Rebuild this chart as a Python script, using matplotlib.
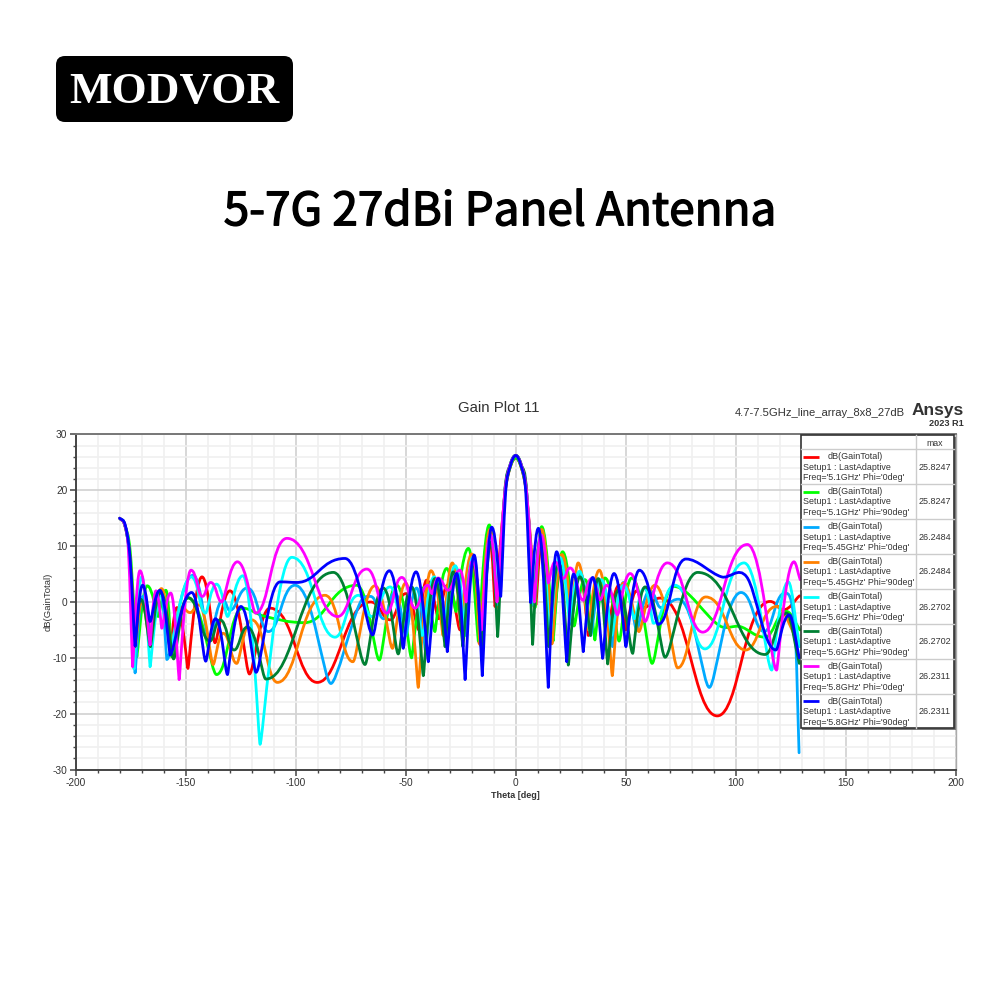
import matplotlib
matplotlib.use("Agg")
import matplotlib.pyplot as plt
import matplotlib.patheffects as pe
from matplotlib.path import Path
from matplotlib.patches import PathPatch, FancyBboxPatch, Rectangle
from matplotlib.ticker import MultipleLocator

# ---- values: lobe peaks and nulls of each trace ----
red_theta = [-180,-177.7,-175.4,-173,-168.5,-166,-161.5,-157,-154,-149,-142.6,-136.7,-129.9,-121,-111.7,-90.2,-66,-57,-50,-44,-40.5,-35,-31,-25.3,-19.3,-16.6,-11.7,-9.4,-5,-2.6,0,2.6,5,9.2,12,16.5,21,25,29,33,38,42,47,50,55,58,65.6,91.6,115.6,121.6,129]
red_gain = [15,13.8,8,-8,0.5,-7,2,-9,-1,-11.9,4.5,-7.3,2,-12.9,-1.1,-14.4,0,-3.2,1.5,-5,3.9,-3,3,-5,6.5,-7.4,10.8,-0.8,19,24,25.8,24,19,-0.5,11,-7,6.5,-3,5,-6,3.5,-4,3,-5,2,-1,0.7,-20.4,0.1,-1.4,1.1]

lime_theta = [-180,-177.7,-175.2,-172.2,-167.5,-162.5,-159,-156.4,-149,-136,-124,-114.7,-96,-72.3,-62,-54,-47.3,-41.7,-36.7,-31.4,-27.1,-21.5,-17,-12,-8.5,-5,-2.6,0,2.6,5,8.8,11.8,17,21.3,26.5,31.5,36,40.6,47,52.7,62,71.6,92.9,102,113.3,123.2,129.2]
lime_gain = [15,13.8,9,-9.8,2.9,-2.6,2.1,-9.8,0.7,-13,-1.1,-2.5,-3.7,3,-10.4,3,-10,2.6,-5.3,6,-1.7,9.6,-7,13.8,-0.5,19,24,25.8,24,19,-1,13.5,-7,9,-4.3,4,-6.8,4.3,-7,4.3,-11,2.8,-4.3,-4.4,-6.3,-1.7,-5]

sky_theta = [-180,-177.7,-175.4,-173,-169.5,-166,-161.5,-158.6,-146.6,-139.7,-133,-130,-122,-112.4,-100.3,-84,-70.8,-66,-60,-55,-50,-45,-41,-36,-31,-27,-23,-19.5,-15.7,-11.7,-8.3,-5,-2.6,0,2.6,5,8.3,11.8,16,20.5,25,29.5,34,39,44,49,55,61,66,74,88,102.4,112.9,122.4,127,128.8]
sky_gain = [15,13.8,8,-12.7,1,-7,2,-10.3,4.8,-6.2,0.3,-1.5,2.5,-5.3,3,-14.6,-0.2,1,-3,1.7,-6,2.5,-9,4,-7,6,-6,8.5,-8,12.5,-0.8,19.5,24.4,26.25,24.4,19.5,-0.8,12.5,-7.5,8,-4,5,-6,4,-8,3.5,-5,2,-1,0.5,-15.3,1.7,-5.3,1.6,-5,-27]

orange_theta = [-180,-177.7,-175.3,-172.8,-170,-166.5,-161,-156.5,-152,-148,-144,-137.5,-133,-126.8,-120,-108.3,-86.7,-74,-64,-56,-50,-44.3,-38.5,-33,-28.8,-24.9,-20,-16.2,-11.7,-8.5,-5,-2.6,0,2.6,5,8.5,11.8,16.5,21,25.5,28.4,33,38,43.9,48.9,56,63.3,73.6,86.4,104.5,118.6,129.2]
orange_gain = [15,13.8,8,-8,0,-7,2.4,-8,-1,-1.9,-0.5,-11.2,-5.6,-11,-3.2,-14.4,1.2,-10.7,2.9,-8.3,3.4,-15.3,5.6,-6,7,-4.4,8.6,-7.7,13,-1,19.5,24.4,26.25,24.4,19.5,-1,13,-7.5,8.5,-3,7,-5,5.7,-13.2,3.4,-5.3,3,-11.8,0.9,-8.6,-0.8,-8]

cyan_theta = [-180,-177.7,-175.5,-173.5,-170,-166.2,-161,-157,-147.5,-141,-136,-131,-124,-116.2,-101.8,-82.1,-71.5,-65.5,-57,-52,-47,-42.5,-37,-32.5,-27.5,-23.5,-19.5,-15.5,-11.5,-8,-5,-2.6,0,2.6,5,8,11.5,15.5,20,24.5,29,33.5,39,43.5,49,54,58.5,62.6,72.4,86,103.8,116.4,123.9,129]
cyan_gain = [15,13.8,7.5,-12,4.5,-11.6,1.5,-8,4.5,-2,3.2,-2.6,4.7,-25.5,8,-6.3,1.2,-2.6,2.7,-4,2.5,-6,4.5,-5,6.5,-4,8,-7,12,-0.5,19.5,24.5,26.27,24.5,19.5,-0.5,12,-7,8,-3.5,5.5,-5,4,-6,3,-3,2.5,-3.8,3,-8.4,7,-12.2,3.6,-8]

dgreen_theta = [-180,-177.7,-175.4,-173,-170.5,-166,-161.5,-155.5,-149,-139,-134.4,-128,-122,-113.6,-82.9,-68.5,-60.2,-53.4,-47.3,-42,-36.7,-32.1,-28.4,-24,-19.5,-15.3,-11.2,-8.2,-5,-2.6,0,2.6,5,7.7,11,15,19.5,23.9,29.2,34,37.5,41.8,46.6,53.2,58.8,67.9,82.7,113.3,123.2,128.9]
dgreen_gain = [15,13.8,8,-8,0.5,-8,1.7,-10.2,0.8,-7,-3.2,-8.6,-4.5,-13.8,5.3,-11.2,2.5,-9.3,2.7,-13.2,4.2,-8,5.4,-8,7,-9,10.7,-6.2,19.5,24.5,26.27,24.5,19.5,-7.6,11,-8,7,-11.3,4.5,-6,4.2,-11.1,2.1,-9.2,2.7,-9.9,5.3,-9.4,-2,-11]

magenta_theta = [-180,-177.7,-176,-174.1,-170.8,-166.2,-163.5,-160.9,-156.8,-153,-147.6,-142.4,-138.6,-133.6,-126.5,-118.2,-104,-80.9,-67.7,-58.6,-51.8,-45.8,-40,-38,-35.3,-30.7,-25.3,-22.5,-19.5,-15.5,-11.5,-8.5,-5,-2.6,0,2.6,5,8.5,11.5,14.8,17.9,21.6,24.7,30.7,34.5,38.3,41.4,46.2,52,58.8,68.9,85,105.3,118.6,126.5,129.3]
magenta_gain = [15,13.8,9,-11.6,5.6,-7.7,2,-4.7,1.6,-13.9,5.7,1,3.5,0,7.2,-2,11.4,-2.6,5.9,-2,4.4,-1.1,3,1.5,4.3,2.1,5.7,0,7.5,-5,12,0,19.5,24.4,26.23,24.4,19.5,0,12,3.4,7.2,4.2,6.1,0.3,4.2,0.4,3,-2.3,5.1,-3.5,7,-5.4,10.3,-12.2,7.2,4]

blue_theta = [-180,-177.5,-175.3,-173,-169.6,-166.2,-161.7,-157.1,-147.3,-140.9,-136.4,-131,-124.9,-118,-107.1,-99.5,-77.6,-65,-57.4,-51.1,-45.3,-39.7,-35.2,-31.1,-26.8,-23,-18.9,-15.2,-10.9,-6.8,-4.6,-2.4,0,2.4,4.6,6.8,10.3,14.8,18.6,23.2,26.3,30.7,35,39.5,44.7,50.1,56.2,64.8,77.4,93.6,105,118.3,124.4,128.9]
blue_gain = [15,13.8,7.9,-7.9,3,-3.5,2.1,-9.5,1.7,-10.6,-3,-13,-0.8,-12.6,3.6,3.5,7.8,-5.9,5.6,-8.3,5.4,-10.7,4.2,-8.9,5.1,-13.9,8.4,-13.2,13.4,1,19.5,24.4,26.23,24.4,19.5,-0.1,13.2,-15.3,9,-10.7,5,-8.9,4.4,-10.1,5.1,-8,5.7,-4,7.7,4.5,4.5,-8.6,-2.3,-10]

x_ticks = [-200, -150, -100, -50, 0, 50, 100, 150, 200]
y_ticks = [-30, -20, -10, 0, 10, 20, 30]

series_colors = ["#ff0000", "#00ff00", "#00aaff", "#ff8000", "#00ffff", "#008033", "#ff00ff", "#0000ff"]
series_values = [(red_theta, red_gain), (lime_theta, lime_gain), (sky_theta, sky_gain), (orange_theta, orange_gain),
                 (cyan_theta, cyan_gain), (dgreen_theta, dgreen_gain), (magenta_theta, magenta_gain), (blue_theta, blue_gain)]
legend_freq = ["Freq='5.1GHz' Phi='0deg'", "Freq='5.1GHz' Phi='90deg'", "Freq='5.45GHz' Phi='0deg'", "Freq='5.45GHz' Phi='90deg'",
               "Freq='5.6GHz' Phi='0deg'", "Freq='5.6GHz' Phi='90deg'", "Freq='5.8GHz' Phi='0deg'", "Freq='5.8GHz' Phi='90deg'"]
legend_max = ["25.8247", "25.8247", "26.2484", "26.2484", "26.2702", "26.2702", "26.2311", "26.2311"]

plt.rcParams["font.family"] = ["Liberation Sans", "DejaVu Sans"]
plt.rcParams["axes.unicode_minus"] = False
TXT = "#333333"


def lobe_path(t, g):
    """Bezier curve through the read knots: round peaks, sharp narrow nulls."""
    n = len(t)

    def is_peak(i):
        return 0 < i < n - 1 and g[i] > g[i - 1] and g[i] > g[i + 1]

    def is_null(i):
        return 0 < i < n - 1 and g[i] < g[i - 1] and g[i] < g[i + 1]

    def slope(i):
        if i == 0:
            return (g[1] - g[0]) / (t[1] - t[0])
        if i == n - 1:
            return (g[-1] - g[-2]) / (t[-1] - t[-2])
        if is_peak(i) or is_null(i):
            return 0.0
        return (g[i + 1] - g[i - 1]) / (t[i + 1] - t[i - 1])

    def frac(i, j):
        # i: knot owning the handle, j: other end of the segment
        dx = abs(t[j] - t[i])
        rate = abs(g[j] - g[i]) / dx
        if is_null(i):
            if rate > 2:
                return 0.08
            if rate > 1:
                return 0.2
            return 0.42
        if is_peak(i):
            return 0.5 if (is_null(j) or is_peak(j)) else 0.34
        return 0.33

    verts, codes = [(t[0], g[0])], [Path.MOVETO]
    for i in range(n - 1):
        dx = t[i + 1] - t[i]
        h0, h1 = frac(i, i + 1) * dx, frac(i + 1, i) * dx
        verts += [(t[i] + h0, g[i] + slope(i) * h0),
                  (t[i + 1] - h1, g[i + 1] - slope(i + 1) * h1),
                  (t[i + 1], g[i + 1])]
        codes += [Path.CURVE4] * 3
    return Path(verts, codes)


fig = plt.figure(figsize=(10, 10), dpi=100, facecolor="white")
ax = fig.add_axes([0.0757, 1 - 0.7695, 0.88, 0.335])
ax.set_xlim(-200, 200)
ax.set_ylim(-30, 30)
ax.set_xticks(x_ticks)
ax.set_yticks(y_ticks)
ax.xaxis.set_minor_locator(MultipleLocator(10))
ax.yaxis.set_minor_locator(MultipleLocator(2))
ax.grid(which="major", color="#d4d4d4", lw=1.3)
ax.grid(which="minor", color="#f0f0f0", lw=1.2)
ax.set_axisbelow(True)
ax.tick_params(which="major", length=4.5, width=1.1, color="#444444", labelsize=7.3, labelcolor=TXT, pad=1.5)
ax.tick_params(which="minor", length=2.5, width=1.0, color="#444444")
for side, col, w in (("left", "#444444", 1.4), ("bottom", "#444444", 1.4), ("top", "#777777", 1.4), ("right", "#aaaaaa", 1.0)):
    ax.spines[side].set_color(col)
    ax.spines[side].set_linewidth(w)
ax.set_xlabel("Theta [deg]", fontsize=6.5, fontweight="bold", color=TXT, labelpad=2)
ax.set_ylabel("dB(GainTotal)", fontsize=6.8, color=TXT, labelpad=0)

for (th, ga), c in zip(series_values, series_colors):
    ax.add_patch(PathPatch(lobe_path(th, ga), fill=False, edgecolor=c, lw=2.0, capstyle="round", joinstyle="round"))

# overlay in image pixels for the legend table, logo and headings
ov = fig.add_axes([0, 0, 1, 1], zorder=5)
ov.set_xlim(0, 1000)
ov.set_ylim(1000, 0)
ov.axis("off")
ov.patch.set_alpha(0)

ov.add_patch(FancyBboxPatch((56, 56), 237, 66, boxstyle="round,pad=0,rounding_size=9", lw=0, fc="black"))
ov.text(174.5, 91.5, "MODVOR", color="white", fontsize=32.5, fontweight="bold", family=["Liberation Serif"], ha="center", va="center")
title = ov.text(500, 212, "5-7G 27dBi Panel Antenna", color="black", fontsize=33, family=["Noto Sans CJK SC"], ha="center", va="center")
title.set_path_effects([pe.withStroke(linewidth=1.0, foreground="black")])
ov.text(499, 408, "Gain Plot 11", color=TXT, fontsize=10.8, ha="center", va="center")
ov.text(905, 413, "4.7-7.5GHz_line_array_8x8_27dB", color=TXT, fontsize=8.1, ha="right", va="center")
ov.text(964, 410, "Ansys", color=TXT, fontsize=12.5, fontweight="bold", ha="right", va="center")
ov.text(964, 423, "2023 R1", color=TXT, fontsize=6.6, fontweight="bold", ha="right", va="center")

# legend table
ov.add_patch(Rectangle((802, 437), 153.5, 292.5, fc="#777777", ec="none"))
ov.add_patch(Rectangle((800.7, 435), 153, 293, fc="white", ec="#333333", lw=1.2))
row_edges = [449, 484, 519, 554, 589, 623.7, 658.7, 693.7, 728]
for y in row_edges[:-1]:
    ov.plot([800.7, 953.7], [y, y], color="#cccccc", lw=1.0)
ov.plot([916, 916], [435, 728], color="#cccccc", lw=1.0)
ov.text(934.5, 443, "max", color=TXT, fontsize=6.3, ha="center", va="center")
for i, c in enumerate(series_colors):
    y0 = row_edges[i]
    ov.plot([803, 819], [y0 + 7.5, y0 + 7.5], color=c, lw=2.0, solid_capstyle="butt")
    ov.text(828, y0 + 7.5, "dB(GainTotal)", color=TXT, fontsize=6.5, va="center")
    ov.text(803, y0 + 18, "Setup1 : LastAdaptive", color=TXT, fontsize=6.4, va="center")
    ov.text(803, y0 + 28.5, legend_freq[i], color=TXT, fontsize=6.4, va="center")
    ov.text(934.5, y0 + 18, legend_max[i], color=TXT, fontsize=6.5, ha="center", va="center")

fig.savefig("out.png", dpi=100, facecolor="white")
